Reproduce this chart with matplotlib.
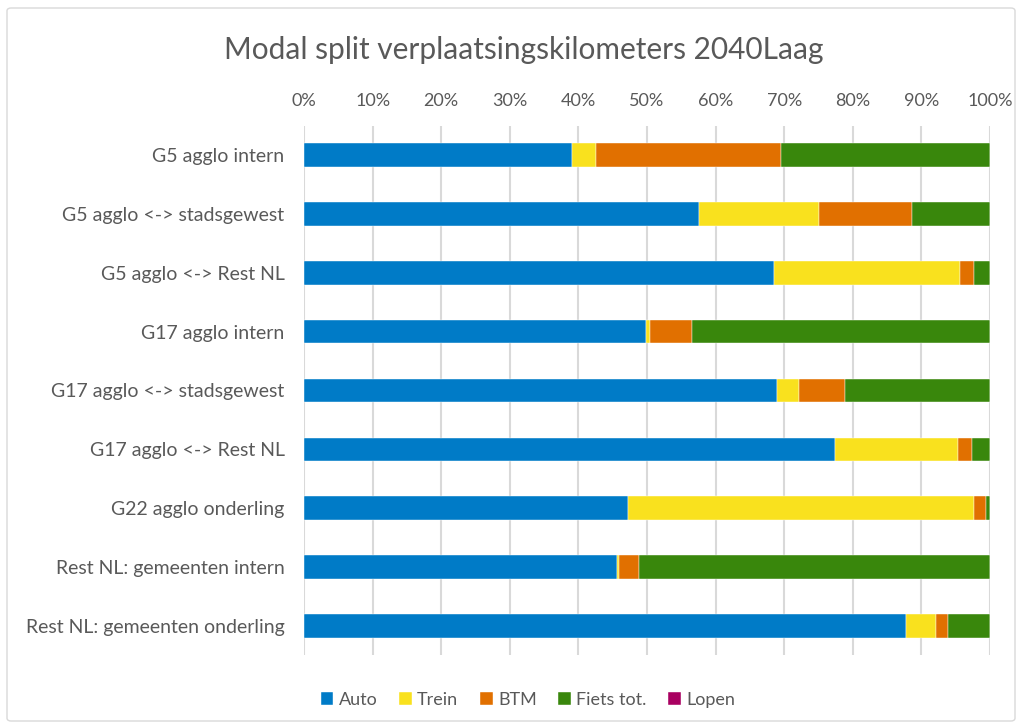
import matplotlib
matplotlib.use("Agg")
import matplotlib.pyplot as plt
from matplotlib.patches import FancyBboxPatch
from matplotlib.ticker import FuncFormatter

categories = [
    "G5 agglo intern",
    "G5 agglo <-> stadsgewest",
    "G5 agglo <-> Rest NL",
    "G17 agglo intern",
    "G17 agglo <-> stadsgewest",
    "G17 agglo <-> Rest NL",
    "G22 agglo onderling",
    "Rest NL: gemeenten intern",
    "Rest NL: gemeenten onderling",
]
auto = [39.0, 57.6, 68.5, 49.9, 68.9, 77.4, 47.3, 45.6, 87.7]
trein = [3.5, 17.4, 27.1, 0.5, 3.3, 18.0, 50.4, 0.3, 4.5]
btm = [27.0, 13.7, 2.1, 6.2, 6.6, 2.0, 1.7, 3.0, 1.7]
fiets = [30.5, 11.3, 2.3, 43.4, 21.2, 2.6, 0.6, 51.1, 6.1]
lopen = [0.0] * 9
series_names = ["Auto", "Trein", "BTM", "Fiets tot.", "Lopen"]
colors = ["#007BC7", "#F9E11E", "#E17000", "#39870C", "#A90061"]
title = "Modal split verplaatsingskilometers 2040Laag"

plt.rcParams['font.family'] = ['Lato', 'DejaVu Sans']
text_color = "#595959"

fig = plt.figure(figsize=(10.22, 7.27), dpi=100)
fig.patches.append(FancyBboxPatch((7/1022, 6/727), 1008/1022, 713/727,
                                  boxstyle="round,pad=0,rounding_size=0.004",
                                  transform=fig.transFigure, fill=False,
                                  edgecolor="#D9D9D9", linewidth=1.0))
ax = fig.add_axes([304/1022, 1 - 655.4/727, 686/1022, 529.8/727])

ypos = list(range(len(categories)))
left = [0.0] * len(categories)
handles = []
for name, vals, col in zip(series_names, [auto, trein, btm, fiets, lopen], colors):
    h = ax.barh(ypos, vals, left=left, height=0.4, color=col, label=name,
                edgecolor="white", linewidth=0.3, zorder=3)
    handles.append(h)
    left = [l + v for l, v in zip(left, vals)]

ax.set_xlim(0, 100)
ax.set_ylim(len(categories) - 0.5, -0.5)
ax.set_yticks(ypos)
ax.set_yticklabels(categories, fontsize=14, color=text_color)
ax.set_xticks(range(0, 101, 10))
ax.xaxis.set_major_formatter(FuncFormatter(lambda v, p: f"{int(v)}%"))
ax.xaxis.tick_top()
ax.tick_params(axis='x', labelsize=13, labelcolor=text_color, length=0, pad=12)
ax.tick_params(axis='y', length=0, pad=14)
ax.grid(axis='x', color="#D9D9D9", linewidth=1.5, zorder=0)
for s in ax.spines.values():
    s.set_visible(False)

fig.text(524/1022, 1 - 50/727, title, ha='center', va='center',
         fontsize=21.5, color=text_color)

leg = fig.legend(handles=handles, labels=series_names, loc='center',
                 bbox_to_anchor=(528/1022, 1 - 700/727), ncol=5, frameon=False,
                 fontsize=13, handlelength=0.7, handleheight=0.7,
                 handletextpad=0.3, columnspacing=1.2)
for t in leg.get_texts():
    t.set_color(text_color)

fig.savefig("out.png", dpi=100)
